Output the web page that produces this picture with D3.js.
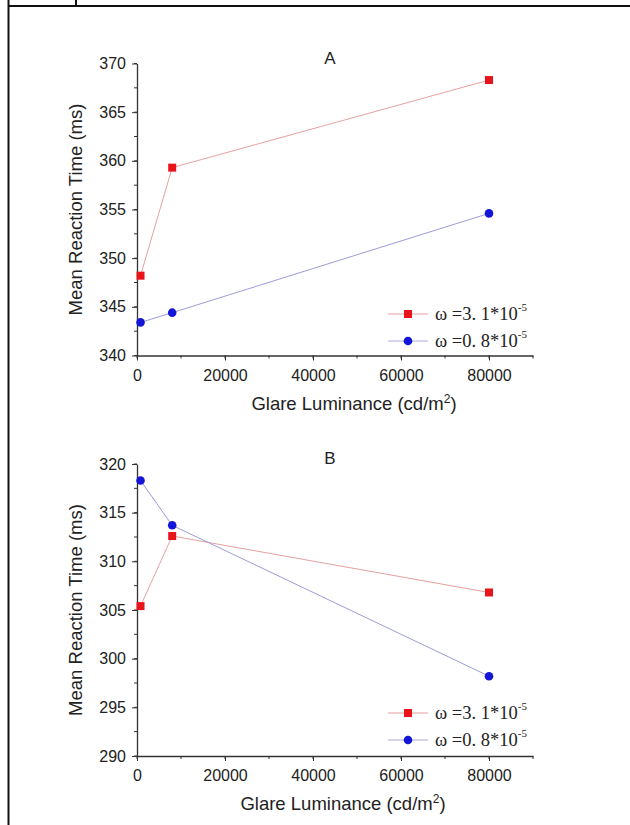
<!DOCTYPE html>
<html>
<head>
<meta charset="utf-8">
<script src="https://cdn.jsdelivr.net/npm/d3@7"></script>
<style>
  body { margin: 0; background: #fff; }
  svg text { font-family: "Liberation Sans", Arial, sans-serif; fill: #222; }
</style>
</head>
<body>
<div id="wrapper"></div>
<script>
// data
const luminance = [800, 8000, 80000];
const seriesNames = ["3. 1", "0. 8"];
const panelTitles = ["A", "B"];
const redA = [348.2, 359.3, 368.3];
const blueA = [343.4, 344.4, 354.6];
const redB = [305.4, 312.6, 306.8];
const blueB = [318.3, 313.7, 298.2];
const xTicks = [0, 20000, 40000, 60000, 80000];
const yDomainA = [340, 370];
const yDomainB = [290, 320];

const width = 630, height = 825;
const svg = d3.select("#wrapper").append("svg")
  .attr("width", width).attr("height", height);

// page frame (table cell borders)
svg.append("line").attr("x1", 8.5).attr("x2", 630).attr("y1", 6).attr("y2", 6)
  .attr("stroke", "#111").attr("stroke-width", 2);
svg.append("line").attr("x1", 8.5).attr("x2", 8.5).attr("y1", 0).attr("y2", 825)
  .attr("stroke", "#111").attr("stroke-width", 2);
svg.append("line").attr("x1", 76).attr("x2", 76).attr("y1", 0).attr("y2", 6)
  .attr("stroke", "#111").attr("stroke-width", 2);

const xScale = d3.scaleLinear().domain([0, 90000]).range([137, 533]);

function drawPanel(top, yDomain, red, blue, title, legendRows, xTitleX) {
  const bottom = top + 292;
  const yScale = d3.scaleLinear().domain(yDomain).range([bottom, top]);
  const g = svg.append("g");

  // minor ticks
  const yMinor = d3.range(yDomain[0], yDomain[1] + 0.01, 2.5);
  g.selectAll(".ym").data(yMinor).join("line")
    .attr("x1", 137 - 3).attr("x2", 137)
    .attr("y1", d => yScale(d)).attr("y2", d => yScale(d))
    .attr("stroke", "#333");
  const xMinor = d3.range(0, 90001, 10000);
  g.selectAll(".xm").data(xMinor).join("line")
    .attr("x1", d => xScale(d)).attr("x2", d => xScale(d))
    .attr("y1", bottom).attr("y2", bottom + 3)
    .attr("stroke", "#333");

  const yAxis = d3.axisLeft(yScale).tickValues(d3.range(yDomain[0], yDomain[1] + 1, 5))
    .tickSize(5).tickSizeOuter(0).tickPadding(6);
  const yG = g.append("g").attr("transform", "translate(137,0)").call(yAxis);
  const xAxis = d3.axisBottom(xScale).tickValues(xTicks).tickFormat(d3.format("d"))
    .tickSize(5).tickSizeOuter(0).tickPadding(9);
  const xG = g.append("g").attr("transform", `translate(0,${bottom})`).call(xAxis);
  [yG, xG].forEach(a => {
    a.attr("font-size", 16).attr("font-family", "'Liberation Sans', Arial, sans-serif");
    a.select(".domain").attr("stroke", "#333").attr("stroke-width", 1.3);
    a.selectAll(".tick line").attr("stroke", "#333");
    a.selectAll("text").style("font-size", "16px").attr("fill", "#222");
  });

  // title
  g.append("text").attr("x", 330).attr("y", top).attr("text-anchor", "middle")
    .style("font-size", "17px").text(title);

  // axis titles
  g.append("text")
    .attr("transform", `translate(82,${(top + bottom) / 2}) rotate(-90)`)
    .attr("text-anchor", "middle").style("font-size", "18.5px")
    .text("Mean Reaction Time (ms)");
  const xt = g.append("text").attr("x", xTitleX).attr("y", bottom + 54)
    .attr("text-anchor", "middle").style("font-size", "18.5px");
  xt.append("tspan").text("Glare Luminance (cd/m");
  xt.append("tspan").attr("dy", -7).style("font-size", "12px").text("2");
  xt.append("tspan").attr("dy", 7).text(")");

  const line = d3.line().x((d, i) => xScale(luminance[i])).y(d => yScale(d));
  g.append("path").attr("d", line(red)).attr("fill", "none")
    .attr("stroke", "#e6a0a0").attr("stroke-width", 1);
  g.append("path").attr("d", line(blue)).attr("fill", "none")
    .attr("stroke", "#9c9cd8").attr("stroke-width", 1);

  g.selectAll(".sq").data(red).join("rect")
    .attr("x", (d, i) => xScale(luminance[i]) - 4)
    .attr("y", d => yScale(d) - 4)
    .attr("width", 8).attr("height", 8).attr("fill", "#e8141c");
  g.selectAll(".ci").data(blue).join("circle")
    .attr("cx", (d, i) => xScale(luminance[i]))
    .attr("cy", d => yScale(d)).attr("r", 4.3).attr("fill", "#1515d8");

  // legend
  legendRows.forEach(row => {
    const ly = row.y;
    g.append("line").attr("x1", 388).attr("x2", 428).attr("y1", ly).attr("y2", ly)
      .attr("stroke", row.red ? "#e6a0a0" : "#a8a8dc");
    if (row.red) {
      g.append("rect").attr("x", 404).attr("y", ly - 4).attr("width", 8).attr("height", 8)
        .attr("fill", "#e8141c");
    } else {
      g.append("circle").attr("cx", 408).attr("cy", ly).attr("r", 4.3).attr("fill", "#1515d8");
    }
    const t = g.append("text").attr("x", 435).attr("y", ly + 6)
      .style("font-family", "'Liberation Serif', 'Times New Roman', serif")
      .style("font-size", "18.5px").attr("fill", "#444");
    t.append("tspan").text("ω =" + seriesNames[row.red ? 0 : 1] + "*10");
    t.append("tspan").attr("dy", -9).style("font-size", "11px").text("-5");
  });
}

drawPanel(63.5, yDomainA, redA, blueA, panelTitles[0],
  [{ y: 314, red: true }, { y: 341, red: false }], 354);
drawPanel(464, yDomainB, redB, blueB, panelTitles[1],
  [{ y: 713, red: true }, { y: 740, red: false }], 343);
</script>
</body>
</html>
